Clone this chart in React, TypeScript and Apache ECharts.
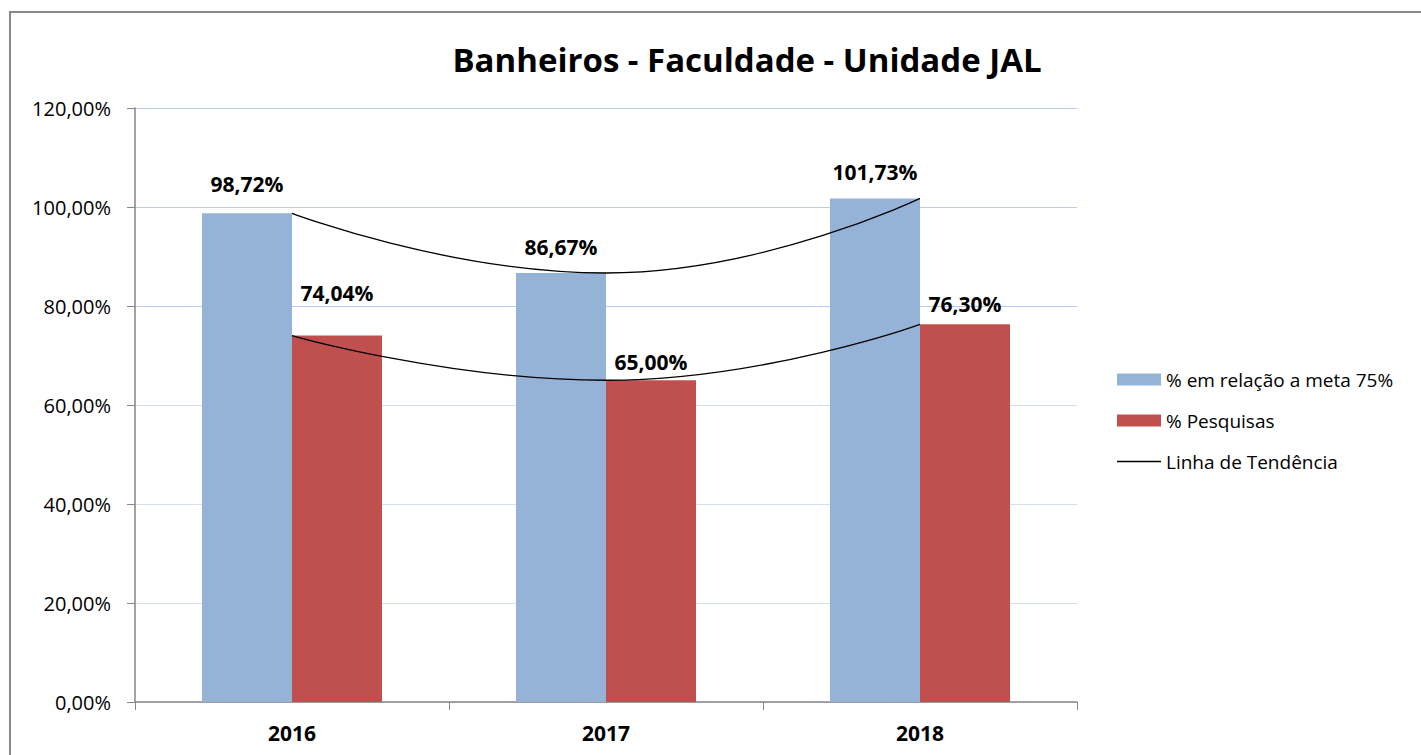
import React, { useEffect, useRef } from "react";
import * as echarts from "echarts";

const categories = ["2016", "2017", "2018"];
const metaValues = [98.72, 86.67, 101.73];
const pesquisaValues = [74.04, 65.0, 76.3];
const metaLabelDist = [19, 15, 16];
const pesquisaLabelDist = [32, 8, 10];
const yTicks = { min: 0, max: 120, interval: 20 };

const fmt = (v: number) => v.toFixed(2).replace(".", ",") + "%";

export default function App() {
  const ref = useRef<HTMLDivElement>(null);
  useEffect(() => {
    document.body.style.margin = "0";
    const chart = echarts.init(ref.current!, null, { renderer: "svg" });
    const font = "Open Sans";
    const light = "#d3def2";
    const strong = "#b8cbec";
    chart.setOption({
      animation: false,
      backgroundColor: "#ffffff",
      textStyle: { fontFamily: font },
      title: {
        text: "Banheiros - Faculdade - Unidade JAL",
        left: 742,
        textAlign: "center",
        top: 38,
        textStyle: { fontFamily: font, fontWeight: "bold", fontSize: 33, color: "#000" },
      },
      graphic: [
        {
          type: "rect",
          shape: { x: 10, y: 12, width: 1430, height: 770 },
          style: { fill: "none", stroke: "#8a8a8a", lineWidth: 2 },
          silent: true,
        },
      ],
      grid: { left: 135, top: 108, width: 942, height: 594, containLabel: false },
      legend: {
        orient: "vertical",
        left: 1112,
        top: 365,
        itemWidth: 44,
        itemHeight: 12,
        itemGap: 22,
        data: [
          { name: "% em relação a meta 75%", icon: "rect" },
          { name: "% Pesquisas", icon: "rect" },
          { name: "Linha de Tendência", icon: "path://M0,0 H44 V1.6 H0 Z" },
        ],
        textStyle: { fontFamily: font, fontSize: 19, color: "#000" },
      },
      xAxis: {
        type: "category",
        data: categories,
        axisLine: { lineStyle: { color: "#868686", width: 1.5 } },
        axisTick: { show: true, alignWithLabel: false, length: 8, lineStyle: { color: "#868686" } },
        axisLabel: { fontFamily: font, fontWeight: "bold", fontSize: 21, color: "#000", margin: 20 },
      },
      yAxis: {
        type: "value",
        min: yTicks.min,
        max: yTicks.max,
        interval: yTicks.interval,
        axisLine: { show: true, lineStyle: { color: "#868686", width: 1.5 } },
        axisTick: { show: true, length: 8, lineStyle: { color: "#868686" } },
        axisLabel: { fontFamily: font, fontSize: 20, color: "#000", margin: 24, formatter: (v: number) => fmt(v) },
        splitLine: { lineStyle: { color: [light, light, light, light, strong, strong, strong], width: 1.2 } },
      },
      series: [
        {
          name: "% em relação a meta 75%",
          type: "bar",
          barWidth: 90,
          barGap: "0%",
          itemStyle: { color: "#95b3d7" },
          data: metaValues.map((v, i) => ({
            value: v,
            label: { distance: metaLabelDist[i] },
          })),
          label: {
            show: true,
            position: "top",
            fontFamily: font,
            fontWeight: "bold",
            fontSize: 21,
            color: "#000",
            formatter: (p: any) => fmt(p.value),
          },
        },
        {
          name: "% Pesquisas",
          type: "bar",
          barWidth: 90,
          itemStyle: { color: "#c0504d" },
          data: pesquisaValues.map((v, i) => ({
            value: v,
            label: { distance: pesquisaLabelDist[i] },
          })),
          label: {
            show: true,
            position: "top",
            fontFamily: font,
            fontWeight: "bold",
            fontSize: 21,
            color: "#000",
            formatter: (p: any) => fmt(p.value),
          },
        },
        {
          name: "Linha de Tendência",
          type: "line",
          data: metaValues,
          smooth: 0.5,
          symbol: "none",
          lineStyle: { color: "#000", width: 1.3 },
          itemStyle: { color: "#000" },
          z: 5,
        },
        {
          name: "Linha de Tendência",
          type: "line",
          data: pesquisaValues,
          smooth: 0.5,
          symbol: "none",
          lineStyle: { color: "#000", width: 1.3 },
          itemStyle: { color: "#000" },
          z: 5,
        },
      ],
    });
    return () => chart.dispose();
  }, []);
  return <div ref={ref} style={{ position: "absolute", left: 0, top: 0, width: 1421, height: 755 }} />;
}
